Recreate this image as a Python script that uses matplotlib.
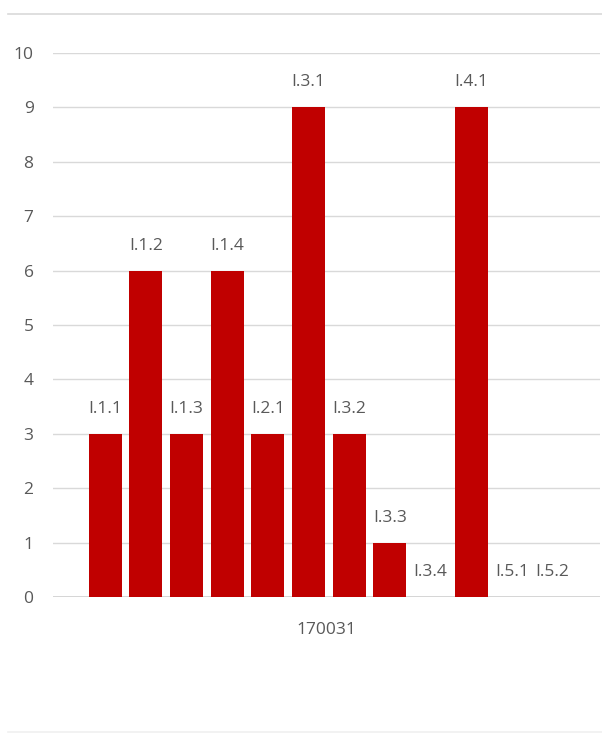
import matplotlib
matplotlib.use("Agg")
import matplotlib.pyplot as plt
from matplotlib.lines import Line2D

categories = ["I.1.1", "I.1.2", "I.1.3", "I.1.4", "I.2.1", "I.3.1",
              "I.3.2", "I.3.3", "I.3.4", "I.4.1", "I.5.1", "I.5.2"]
values = [3, 6, 3, 6, 3, 9, 3, 1, 0, 9, 0, 0]
group_label = "170031"
y_ticks = list(range(0, 11))

plt.rcParams["font.family"] = ["Open Sans", "DejaVu Sans"]
text_color = "#595959"
bar_color = "#C00000"
grid_color = "#D9D9D9"
fs = 12.5

fig = plt.figure(figsize=(6.02, 7.35), dpi=100)
fig.patch.set_facecolor("white")

ax = fig.add_axes([53 / 602, (735 - 597) / 735, (600 - 53) / 602, (597 - 53) / 735])
x = list(range(len(categories)))
ax.bar(x, values, width=0.81, color=bar_color, zorder=3)

ax.set_xlim(-1.28, 12.17)
ax.set_ylim(0, 10)
ax.set_yticks(y_ticks)
ax.set_yticklabels([str(t) for t in y_ticks], fontsize=fs, color=text_color)
ax.tick_params(axis="y", length=0, pad=14)
ax.set_xticks([])
ax.grid(axis="y", color=grid_color, linewidth=1.0, zorder=0)
for s in ax.spines.values():
    s.set_visible(False)
ax.axhline(0, color="#D0D0D0", linewidth=1.2, zorder=2)

for xi, v, lab in zip(x, values, categories):
    ax.annotate(lab, (xi, v), xytext=(0, 18), textcoords="offset points",
                ha="center", va="center", fontsize=fs, color=text_color)

ax.text(0.5, -0.06, group_label, transform=ax.transAxes, ha="center", va="center",
        fontsize=fs, color=text_color)

# chart area border lines
fig.add_artist(Line2D([8 / 602, 1.0], [1 - 14 / 735, 1 - 14 / 735],
                      transform=fig.transFigure, color="#D9D9D9", linewidth=1.2))
fig.add_artist(Line2D([8 / 602, 1.0], [1 - 732 / 735, 1 - 732 / 735],
                      transform=fig.transFigure, color="#F0F0F0", linewidth=1.2))

fig.savefig("out.png", dpi=100, facecolor="white")
